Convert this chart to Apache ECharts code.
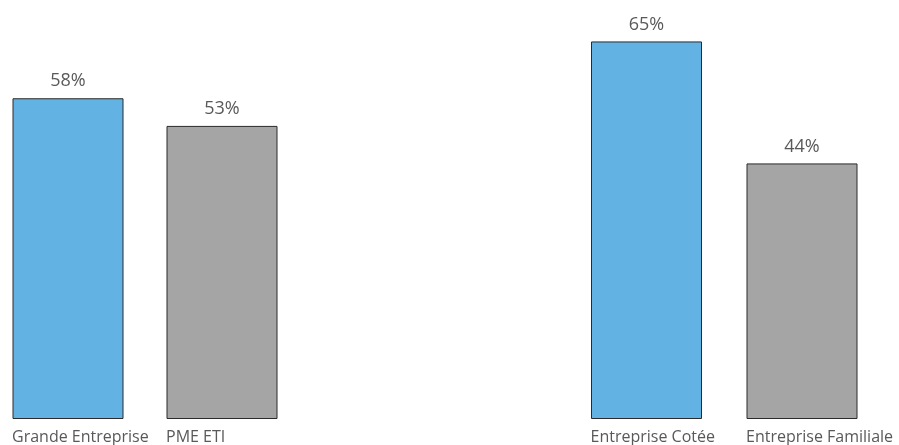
<!DOCTYPE html>
<html>
<head>
<meta charset="utf-8">
<script src="https://cdn.jsdelivr.net/npm/echarts@6/dist/echarts.min.js"></script>
<style>
  html, body { margin: 0; padding: 0; background: #ffffff; }
  #chart { width: 899px; height: 445px; }
</style>
</head>
<body>
<div id="chart"></div>
<script>
// Share of companies, by size and by ownership (percent)
const sizeCategories = ['Grande Entreprise', 'PME ETI'];
const sizeValues = [58, 53];
const ownerCategories = ['Entreprise Cotée', 'Entreprise Familiale'];
const ownerValues = [65, 44];
const barColors = ['#62b3e4', '#a5a5a5'];

const textColor = '#595959';
const labelFont = '"Open Sans", sans-serif';

function xAxisFor(gridIndex, cats) {
  return {
    type: 'category',
    gridIndex: gridIndex,
    data: cats,
    axisLine: { show: false },
    axisTick: { show: false },
    axisLabel: {
      interval: 0,
      align: 'left',
      padding: [0, 0, 0, -56],
      margin: 10,
      color: textColor,
      fontFamily: labelFont,
      fontSize: 16
    }
  };
}

function yAxisFor(gridIndex) {
  return {
    type: 'value',
    gridIndex: gridIndex,
    min: 0,
    max: 70,
    show: false,
    splitLine: { show: false }
  };
}

function seriesFor(index, values) {
  return {
    type: 'bar',
    xAxisIndex: index,
    yAxisIndex: index,
    barWidth: 111,
    data: values.map((v, i) => ({
      value: v,
      itemStyle: { color: barColors[i] }
    })),
    itemStyle: { borderColor: '#2a2a2a', borderWidth: 1 },
    label: {
      show: true,
      position: 'top',
      distance: 8,
      formatter: '{c}%',
      color: textColor,
      fontFamily: labelFont,
      fontSize: 18
    },
    emphasis: { disabled: true },
    animation: false
  };
}

const chart = echarts.init(document.getElementById('chart'), null, { renderer: 'canvas' });
chart.setOption({
  backgroundColor: '#ffffff',
  animation: false,
  grid: [
    { left: -9, width: 308, top: 31.9, bottom: 26, containLabel: false, outerBoundsMode: 'none' },
    { left: 568.75, width: 311, top: 12.4, bottom: 26, containLabel: false, outerBoundsMode: 'none' }
  ],
  xAxis: [xAxisFor(0, sizeCategories), xAxisFor(1, ownerCategories)],
  yAxis: [yAxisFor(0), yAxisFor(1)],
  series: [seriesFor(0, sizeValues), seriesFor(1, ownerValues)]
});
</script>
</body>
</html>
